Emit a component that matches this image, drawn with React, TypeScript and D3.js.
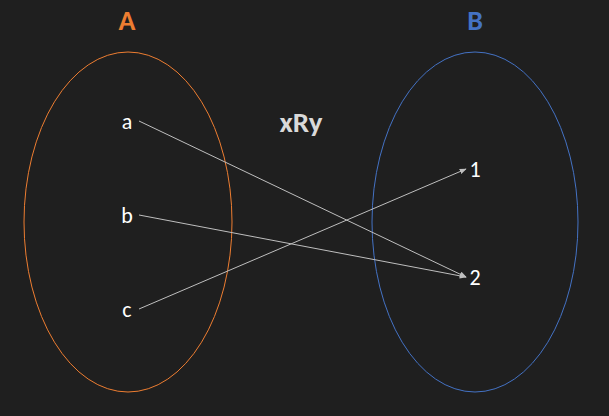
import React from "react";
import * as d3 from "d3";

const setA = ["a", "b", "c"];
const setB = ["1", "2"];
const relation: [string, string][] = [["a", "2"], ["b", "2"], ["c", "1"]];
const title = "xRy";

export default function App() {
  const W = 609, H = 416;
  const yA = d3.scalePoint<string>().domain(setA).range([121, 309]);
  const yB = d3.scalePoint<string>().domain(setB).range([169, 277]);
  const xA = 127, xB = 475;
  return (
    <svg width={W} height={H} style={{ position: "fixed", left: 0, top: 0, background: "#1f1f1f" }}
      fontFamily="Calibri, Carlito, 'Liberation Sans', sans-serif">
      <defs>
        <marker id="arr" viewBox="0 0 10 10" refX="9" refY="5" markerWidth="7" markerHeight="7" orient="auto">
          <path d="M0,1 L10,5 L0,9 z" fill="#bfbfbf" />
        </marker>
      </defs>
      <rect width={W} height={H} fill="#1f1f1f" />
      <ellipse cx={128} cy={222} rx={104} ry={170} fill="none" stroke="#ED7D31" strokeWidth={1} />
      <ellipse cx={475} cy={222} rx={103} ry={170} fill="none" stroke="#4472C4" strokeWidth={1} />
      <text x={127} y={30} textAnchor="middle" fill="#ED7D31" fontSize={28} fontWeight="bold">A</text>
      <text x={475} y={30} textAnchor="middle" fill="#4472C4" fontSize={28} fontWeight="bold">B</text>
      <text x={301} y={132} textAnchor="middle" fill="#d9d9d9" fontSize={29} fontWeight="bold">{title}</text>
      {setA.map(s => (
        <text key={s} x={xA} y={yA(s)!} dy="0.35em" textAnchor="middle" fill="#fff" fontSize={22}>{s}</text>
      ))}
      {setB.map(s => (
        <text key={s} x={xB} y={yB(s)!} dy="0.35em" textAnchor="middle" fill="#fff" fontSize={22}>{s}</text>
      ))}
      {relation.map(([a, b]) => (
        <line key={a + b} x1={xA + 12} y1={yA(a)!} x2={xB - 9} y2={yB(b)!}
          stroke="#bfbfbf" strokeWidth={1} markerEnd="url(#arr)" />
      ))}
    </svg>
  );
}
